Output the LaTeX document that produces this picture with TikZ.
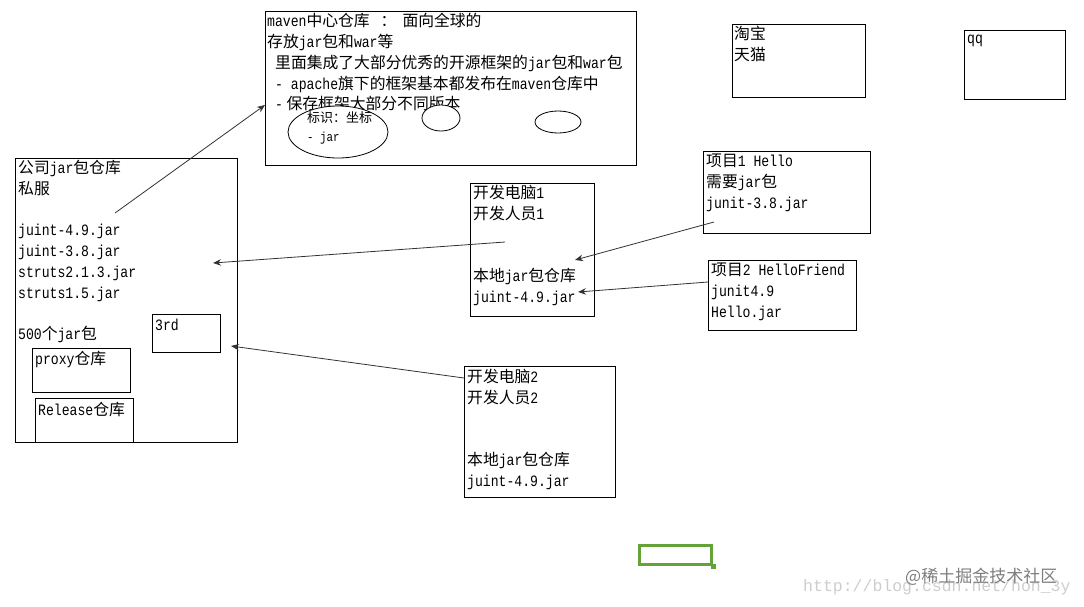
\documentclass[tikz,border=0pt]{standalone}
\usepackage{fontspec}
\setmainfont{Noto Sans CJK SC}
\newfontfamily\latfont[FakeStretch=0.83]{Liberation Mono}
\newfontfamily\wmfont{Liberation Mono}
\newcommand\lt[1]{{\latfont #1}}
\usetikzlibrary{shapes.geometric,arrows.meta}
\definecolor{arrowgray}{RGB}{50,50,50}
\definecolor{selgreen}{RGB}{100,162,58}
\definecolor{wmlight}{RGB}{205,205,205}
\definecolor{wmdark}{RGB}{125,125,125}
\begin{document}
\begin{tikzpicture}[x=1pt,y=-1pt,>={Stealth[length=8pt,width=6.5pt]},
  box/.style={draw,line width=0.8pt,anchor=north west,inner sep=0pt},
  txt/.style={anchor=north west,inner sep=0pt,align=left,font=\fontsize{15.8}{20.8}\selectfont},
  smalltxt/.style={anchor=north west,inner sep=0pt,align=left,font=\fontsize{13}{19}\selectfont},
  oval/.style={draw,ellipse,line width=0.8pt,fill=white,inner sep=0pt},
  link/.style={->,draw=arrowgray,line width=0.8pt}]
\useasboundingbox (0,0) rectangle (1084,606);
% maven central
\node[box,minimum width=371pt,minimum height=154pt] (central) at (265,11) {};
\node[txt] (centraltxt) at (267,13) {\lt{maven}中心仓库\hspace{11pt}：\hspace{6pt}面向全球的\\
存放\lt{jar}包和\lt{war}等\\
\hspace*{8pt}里面集成了大部分优秀的开源框架的\lt{jar}包和\lt{war}包\\
\hspace*{8pt}\lt{- apache}旗下的框架基本都发布在\lt{maven}仓库中\\
\hspace*{8pt}\lt{-} 保存框架大部分不同版本};
\node[oval,minimum width=100pt,minimum height=52pt] (coordoval) at (338,132) {};
\node[oval,minimum width=38pt,minimum height=26pt] (ovaltwo) at (441,118) {};
\node[oval,minimum width=46pt,minimum height=22pt] (ovalthree) at (558,122) {};
\node[smalltxt] (coordtxt) at (307,111) {标识：坐标\\\lt{- jar}};
% other sites
\node[box,minimum width=133pt,minimum height=73pt] (taobao) at (732,24) {};
\node[txt] (taobaotxt) at (734,26) {淘宝\\天猫};
\node[box,minimum width=101pt,minimum height=69pt] (qq) at (964,30) {};
\node[txt] (qqtxt) at (967,35) {\lt{qq}};
% company private server
\node[box,minimum width=222pt,minimum height=284pt] (server) at (15,158) {};
\node[txt] (servertxt) at (18,160) {公司\lt{jar}包仓库\\私服\\ \\\lt{juint-4.9.jar}\\\lt{juint-3.8.jar}\\\lt{struts2.1.3.jar}\\\lt{struts1.5.jar}\\ \\\lt{500}个\lt{jar}包};
\node[box,minimum width=68pt,minimum height=38pt] (third) at (152,314) {};
\node[txt] (thirdtxt) at (155,319) {\lt{3rd}};
\node[box,minimum width=98pt,minimum height=44pt] (proxy) at (32,348) {};
\node[txt] (proxytxt) at (35,351) {\lt{proxy}仓库};
\node[box,minimum width=98pt,minimum height=44pt] (release) at (35,398) {};
\node[txt] (releasetxt) at (38,402) {\lt{Release}仓库};
% developer machines
\node[box,minimum width=124pt,minimum height=133pt] (devone) at (470,183) {};
\node[txt] (devonetxt) at (473,185) {开发电脑\lt{1}\\开发人员\lt{1}\\ \\ \\本地\lt{jar}包仓库\\\lt{juint-4.9.jar}};
\node[box,minimum width=151pt,minimum height=131pt] (devtwo) at (464,366) {};
\node[txt] (devtwotxt) at (467,369) {开发电脑\lt{2}\\开发人员\lt{2}\\ \\ \\本地\lt{jar}包仓库\\\lt{juint-4.9.jar}};
% projects
\node[box,minimum width=167pt,minimum height=82pt] (projone) at (703,151) {};
\node[txt] (projonetxt) at (706,154) {项目\lt{1 Hello}\\需要\lt{jar}包\\\lt{junit-3.8.jar}};
\node[box,minimum width=148pt,minimum height=70pt] (projtwo) at (708,260) {};
\node[txt] (projtwotxt) at (711,263) {项目\lt{2 HelloFriend}\\\lt{junit4.9}\\\lt{Hello.jar}};
% arrows
\coordinate (serverout) at (115,213);
\coordinate (centralin) at (265,105);
\coordinate (devoneout) at (505,242);
\coordinate (serverin) at (213,263);
\coordinate (projoneout) at (714,222);
\coordinate (devonein) at (575,260);
\coordinate (projtwoout) at (708,282);
\coordinate (devonejar) at (578,292);
\coordinate (devtwoout) at (464,378);
\coordinate (thirdin) at (231,346);
\draw[link] (serverout) -- (centralin);
\draw[link] (devoneout) -- (serverin);
\draw[link] (projoneout) -- (devonein);
\draw[link] (projtwoout) -- (devonejar);
\draw[link] (devtwoout) -- (thirdin);
% selection box
\node[draw=selgreen,line width=3pt,anchor=north west,minimum width=72pt,minimum height=19pt,inner sep=0pt] (selbox) at (638,544) {};
\fill[selgreen] (selbox.south east) ++(-2.5,-2.5) rectangle ++(5,5);
% watermark
\node[anchor=west,inner sep=0pt,text=wmlight,font=\wmfont\fontsize{16.5}{16.5}\selectfont] (wmurl) at (803,587) {http://blog.csdn.net/hon\_3y};
\node[anchor=west,inner sep=0pt,text=wmdark,font=\fontsize{17}{17}\selectfont] (wmsite) at (905,577) {@稀土掘金技术社区};
\end{tikzpicture}
\end{document}
